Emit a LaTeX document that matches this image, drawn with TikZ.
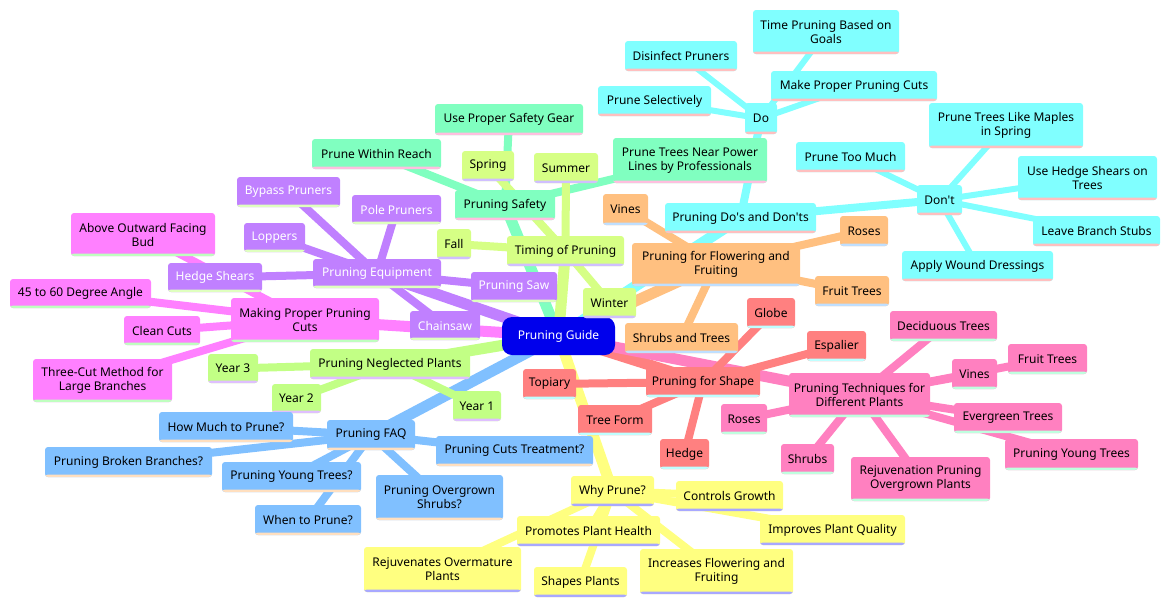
\documentclass[tikz,border=0pt]{standalone}
\usepackage{fontspec}
\setmainfont{Noto Sans}
\usetikzlibrary{backgrounds}
\definecolor{rootc}{HTML}{0000EC}
\definecolor{cyf}{HTML}{80FFFF}\definecolor{cyb}{HTML}{FFBFBF}
\definecolor{mnf}{HTML}{80FFC0}\definecolor{mnb}{HTML}{FFBFDF}
\definecolor{lmf}{HTML}{D6FF85}\definecolor{lmb}{HTML}{D0BFFF}
\definecolor{ylf}{HTML}{FFFF80}\definecolor{ylb}{HTML}{A8A8FF}
\definecolor{orf}{HTML}{FFC080}\definecolor{orb}{HTML}{BFDFFF}
\definecolor{slf}{HTML}{FF8080}\definecolor{slb}{HTML}{BFFFFF}
\definecolor{pkf}{HTML}{FF80C0}\definecolor{pkb}{HTML}{BFFFDF}
\definecolor{mgf}{HTML}{FF80FF}\definecolor{mgb}{HTML}{BFFFBF}
\definecolor{puf}{HTML}{C080FF}\definecolor{pub}{HTML}{DFFFBF}
\definecolor{blf}{HTML}{80C0FF}\definecolor{blb}{HTML}{FFDFBF}
\definecolor{gnf}{HTML}{C2FF85}\definecolor{gnb}{HTML}{DFBFFF}
\tikzset{
 mm/.style={rectangle, rounded corners=3pt, inner sep=0pt, align=center, font=\fontsize{12}{14}\selectfont, text=black},
 br/.style 2 args={mm, fill=#1, path picture={\fill[#2] ([yshift=2.5pt]path picture bounding box.south west) rectangle (path picture bounding box.south east);}},
 sz/.style 2 args={minimum width=#1pt, minimum height=#2pt},
 cyn/.style={br={cyf}{cyb}},
 mnt/.style={br={mnf}{mnb}},
 lim/.style={br={lmf}{lmb}},
 yel/.style={br={ylf}{ylb}},
 ora/.style={br={orf}{orb}},
 sal/.style={br={slf}{slb}},
 pnk/.style={br={pkf}{pkb}},
 mag/.style={br={mgf}{mgb}},
 pur/.style={br={puf}{pub}, text=white},
 blu/.style={br={blf}{blb}},
 grn/.style={br={gnf}{gnb}},
 e1/.style={line width=11pt, draw=#1},
 e2/.style={line width=8pt, draw=#1},
 e3/.style={line width=6pt, draw=#1},
}
\begin{document}
\begin{tikzpicture}[x=1pt, y=-1pt]
\useasboundingbox (0,0) rectangle (1170,606);
% root
\node[mm, fill=rootc, text=white, rounded corners=10pt, sz={113}{38}] (root) at (558.5,336) {Pruning Guide};
% cyan
\node[cyn, sz={151}{30}] (dd) at (740.5,218) {Pruning Do\textquotesingle s and Don\textquotesingle ts};
\node[cyn, sz={32}{31}] (do) at (761,118.5) {Do};
\node[cyn, sz={45}{30}] (dont) at (939.5,200) {Don\textquotesingle t};
\node[cyn, sz={146}{44}] (tpg) at (826,32) {Time Pruning Based on\\Goals};
\node[cyn, sz={112}{30}] (dp) at (681,56) {Disinfect Pruners};
\node[cyn, sz={166}{30}] (mpc) at (854,86) {Make Proper Pruning Cuts};
\node[cyn, sz={113}{30}] (ps) at (654.5,101) {Prune Selectively};
\node[cyn, sz={154}{45}] (ptlm) at (1006,125.5) {Prune Trees Like Maples\\in Spring};
\node[cyn, sz={109}{30}] (ptm) at (850.5,157) {Prune Too Much};
\node[cyn, sz={139}{44}] (uhs) at (1087.5,178) {Use Hedge Shears on\\Trees};
\node[cyn, sz={127}{30}] (lbs) at (1096.5,231) {Leave Branch Stubs};
\node[cyn, sz={151}{30}] (awd) at (977.5,266) {Apply Wound Dressings};
% mint
\node[mnt, sz={100}{30}] (saf) at (505,205) {Pruning Safety};
\node[mnt, sz={148}{31}] (upsg) at (509,119.5) {Use Proper Safety Gear};
\node[mnt, sz={129}{30}] (pwr) at (376.5,154) {Prune Within Reach};
\node[mnt, sz={154}{45}] (ptnp) at (690,160.5) {Prune Trees Near Power\\Lines by Professionals};
% lime timing
\node[lim, sz={117}{30}] (tim) at (565.5,251) {Timing of Pruning};
\node[lim, sz={52}{30}] (spr) at (488,166) {Spring};
\node[lim, sz={64}{30}] (sum) at (566,168) {Summer};
\node[lim, sz={34}{30}] (fall) at (454,244) {Fall};
\node[lim, sz={53}{30}] (win) at (609.5,303) {Winter};
% orange
\node[ora, sz={168}{43}] (flw) at (716,264.5) {Pruning for Flowering and\\Fruiting};
\node[ora, sz={45}{31}] (vin) at (625.5,209.5) {Vines};
\node[ora, sz={48}{30}] (ros) at (864,231) {Roses};
\node[ora, sz={74}{30}] (frt) at (852,291) {Fruit Trees};
\node[ora, sz={113}{30}] (sat) at (681.5,338) {Shrubs and Trees};
% salmon
\node[sal, sz={114}{30}] (shp) at (703,382) {Pruning for Shape};
\node[sal, sz={48}{30}] (glb) at (771,313) {Globe};
\node[sal, sz={59}{30}] (esp) at (836.5,346) {Espalier};
\node[sal, sz={53}{30}] (top) at (549.5,384) {Topiary};
\node[sal, sz={74}{30}] (tf) at (615,420) {Tree Form};
\node[sal, sz={49}{30}] (hdg) at (684.5,454) {Hedge};
% pink
\node[pnk, sz={141}{44}] (tec) at (859.5,395) {Pruning Techniques for\\Different Plants};
\node[pnk, sz={107}{30}] (dec) at (943.5,326) {Deciduous Trees};
\node[pnk, sz={79}{30}] (pfr) at (1047.5,359) {Fruit Trees};
\node[pnk, sz={45}{30}] (pvn) at (974.5,374) {Vines};
\node[pnk, sz={108}{30}] (evg) at (1008,418) {Evergreen Trees};
\node[pnk, sz={133}{31}] (pyt) at (1071.5,454.5) {Pruning Young Trees};
\node[pnk, sz={139}{44}] (rej) at (920.5,479) {Rejuvenation Pruning\\Overgrown Plants};
\node[pnk, sz={53}{30}] (shr) at (807.5,459) {Shrubs};
\node[pnk, sz={46}{30}] (pro) at (744,419) {Roses};
% magenta
\node[mag, sz={148}{44}] (mppc) at (305,320) {Making Proper Pruning\\Cuts};
\node[mag, sz={144}{43}] (aofb) at (143,234.5) {Above Outward Facing\\Bud};
\node[mag, sz={141}{29}] (deg) at (80.5,293.5) {45 to 60 Degree Angle};
\node[mag, sz={76}{29}] (cc) at (162,330.5) {Clean Cuts};
\node[mag, sz={139}{43}] (tcm) at (102.5,380.5) {Three-Cut Method for\\Large Branches};
% purple
\node[pur, sz={128}{29}] (eqp) at (377,273.5) {Pruning Equipment};
\node[pur, sz={103}{30}] (byp) at (288.5,192) {Bypass Pruners};
\node[pur, sz={89}{29}] (pol) at (396.5,209.5) {Pole Pruners};
\node[pur, sz={61}{29}] (lop) at (274.5,237.5) {Loppers};
\node[pur, sz={94}{29}] (hsh) at (215,277.5) {Hedge Shears};
\node[pur, sz={86}{30}] (saw) at (514,287) {Pruning Saw};
\node[pur, sz={70}{29}] (chs) at (445,325.5) {Chainsaw};
% green neglected
\node[grn, sz={160}{30}] (neg) at (390,364) {Pruning Neglected Plants};
\node[grn, sz={50}{29}] (y3) at (233,368.5) {Year 3};
\node[grn, sz={49}{29}] (y2) at (296.5,398.5) {Year 2};
\node[grn, sz={48}{30}] (y1) at (477,406) {Year 1};
% blue
\node[blu, sz={88}{30}] (faq) at (371,435) {Pruning FAQ};
\node[blu, sz={134}{30}] (hmp) at (226,427) {How Much to Prune?};
\node[blu, sz={167}{30}] (pbb) at (128.5,462) {Pruning Broken Branches?};
\node[blu, sz={139}{30}] (pytq) at (291.5,477) {Pruning Young Trees?};
\node[blu, sz={106}{30}] (wtp) at (308,520) {When to Prune?};
\node[blu, sz={127}{45}] (pos) at (439.5,497.5) {Pruning Overgrown\\Shrubs?};
\node[blu, sz={157}{30}] (pct) at (514.5,451) {Pruning Cuts Treatment?};
% yellow
\node[yel, sz={83}{30}] (why) at (612.5,491) {Why Prune?};
\node[yel, sz={107}{30}] (cg) at (729.5,496) {Controls Growth};
\node[yel, sz={145}{30}] (ipq) at (832.5,530) {Improves Plant Quality};
\node[yel, sz={143}{30}] (pph) at (588.5,531) {Promotes Plant Health};
\node[yel, sz={157}{45}] (rop) at (442.5,569.5) {Rejuvenates Overmature\\Plants};
\node[yel, sz={93}{30}] (spl) at (580.5,582) {Shapes Plants};
\node[yel, sz={153}{45}] (ifl) at (716.5,571.5) {Increases Flowering and\\Fruiting};
% edges
\begin{scope}[on background layer]
\fill[white] (0,0) rectangle (1170,606);
\draw[e1=cyf] (root.center) -- (dd.center);
\draw[e1=mnf] (root.center) -- (saf.center);
\draw[e1=lmf] (root.center) -- (tim.center);
\draw[e1=ylf] (root.center) -- (why.center);
\draw[e1=orf] (root.center) -- (flw.center);
\draw[e1=slf] (root.center) -- (shp.center);
\draw[e1=pkf] (root.center) -- (tec.center);
\draw[e1=mgf] (root.center) -- (mppc.center);
\draw[e1=puf] (root.center) -- (eqp.center);
\draw[e1=blf] (root.center) -- (faq.center);
\draw[e1=gnf] (root.center) -- (neg.center);
\foreach \c in {do,dont} \draw[e2=cyf] (dd.center) -- (\c.center);
\foreach \c in {dp,ps,mpc,tpg} \draw[e3=cyf] (do.center) -- (\c.center);
\foreach \c in {ptm,ptlm,uhs,lbs,awd} \draw[e3=cyf] (dont.center) -- (\c.center);
\foreach \c in {upsg,pwr,ptnp} \draw[e2=mnf] (saf.center) -- (\c.center);
\foreach \c in {spr,sum,fall,win} \draw[e2=lmf] (tim.center) -- (\c.center);
\foreach \c in {vin,ros,frt,sat} \draw[e2=orf] (flw.center) -- (\c.center);
\foreach \c in {glb,esp,top,tf,hdg} \draw[e2=slf] (shp.center) -- (\c.center);
\foreach \c in {dec,pfr,pvn,evg,pyt,rej,shr,pro} \draw[e2=pkf] (tec.center) -- (\c.center);
\foreach \c in {aofb,deg,cc,tcm} \draw[e2=mgf] (mppc.center) -- (\c.center);
\foreach \c in {byp,pol,lop,hsh,saw,chs} \draw[e2=puf] (eqp.center) -- (\c.center);
\foreach \c in {y3,y2,y1} \draw[e2=gnf] (neg.center) -- (\c.center);
\foreach \c in {hmp,pbb,pytq,wtp,pos,pct} \draw[e2=blf] (faq.center) -- (\c.center);
\foreach \c in {cg,ipq,pph,rop,spl,ifl} \draw[e2=ylf] (why.center) -- (\c.center);
\end{scope}
\end{tikzpicture}
\end{document}
